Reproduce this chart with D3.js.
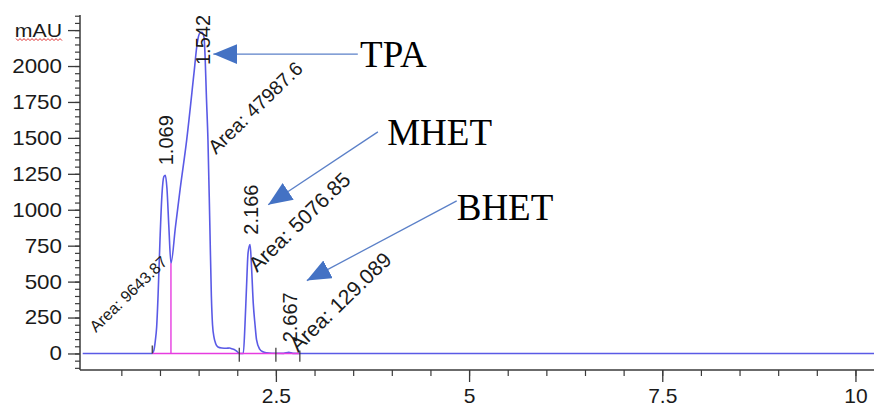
<!DOCTYPE html>
<html>
<head>
<meta charset="utf-8">
<script src="https://cdn.jsdelivr.net/npm/d3@7"></script>
<style>
  body { margin: 0; background: #fff; }
  svg { display: block; }
</style>
</head>
<body>
<div class="chart"></div>
<script>
var svgWidth = 874;
var svgHeight = 406;

// chromatogram trace (min, mAU)
var times  = [0, 0.90, 0.92, 0.94, 0.957, 0.975, 1.0, 1.025, 1.05, 1.069, 1.09, 1.115, 1.142,
              1.20, 1.26, 1.345, 1.44, 1.48, 1.51, 1.542, 1.57, 1.585, 1.60, 1.621, 1.645, 1.665,
              1.68, 1.70, 1.72, 1.75, 1.80, 1.86, 1.90, 1.93, 1.96, 2.00, 2.026, 2.05, 2.078,
              2.10, 2.12, 2.14, 2.166, 2.185, 2.207, 2.23, 2.25, 2.29, 2.33, 2.38, 2.45, 2.60,
              2.667, 2.72, 2.85, 10.24];
var signal = [0, 0, 20, 90, 184, 400, 788, 1100, 1230, 1240, 1150, 880, 628,
              880, 1140, 1483, 1950, 2150, 2225, 2235, 2200, 2050, 1800, 1483, 900, 400,
              200, 110, 70, 45, 38, 36, 38, 33, 28, 12, 0, 0, 0,
              200, 464, 700, 757, 600, 350, 200, 94, 30, 12, 5, 2, 1,
              8, 1, 0, 0];

// peaks
var peakTimes   = [1.069, 1.542, 2.166, 2.667];
var peakHeights = [1240, 2235, 757, 8];
var valleyTime = 1.142;
var valleyValue = 628;

// area annotations, anchored at (time, mAU)
var areaTexts  = ["Area: 9643.87", "Area: 47987.6", "Area: 5076.85", "Area: 129.089"];
var areaTimes  = [0.172, 1.724, 2.255, 2.785];
var areaValues = [143, 1381, 560, 3];
var areaFont   = [16, 19.5, 21, 21];

// integration events
var eventTimes = [0.90, 2.026, 2.50, 2.81];
var eventLow   = [0, -57, -57, -57];
var eventHigh  = [55, 40, 40, 20];
var baselineStart = 0.90;
var baselineEnd = 2.81;

// compound call-outs
var compounds   = ["TPA", "MHET", "BHET"];
var labelTimes  = [3.59, 3.94, 4.84];
var labelValues = [1993, 1451, 931];
var tailTimes   = [3.56, 3.82, 4.84];
var tailValues  = [2083, 1542, 1062];
var tipTimes    = [1.69, 2.40, 2.90];
var tipValues   = [2083, 1035, 507];

// axes
var xMajor = [2.5, 5, 7.5, 10];
var xMinor = d3.range(0.5, 10.25, 0.5);
var yMajor = [0, 250, 500, 750, 1000, 1250, 1500, 1750, 2000, 2250];
var yMinor = d3.range(-100, 2351, 50);

var svg = d3.select(".chart")
    .append("svg")
    .attr("width", svgWidth)
    .attr("height", svgHeight);

var x = d3.scaleLinear().domain([-0.035, 10.24]).range([80, 874]);
var y = d3.scaleLinear().domain([-115, 2355]).range([370, 15]);

var axisColor = "#3a3a3a";

// y axis
svg.append("g")
    .attr("transform", "translate(80,0)")
    .call(d3.axisLeft(y).tickValues(yMinor).tickSize(5).tickFormat(""))
    .call(g => g.select(".domain").remove())
    .selectAll("line").attr("stroke", axisColor).attr("stroke-width", 1.2);

var yAxis = svg.append("g")
    .attr("transform", "translate(80,0)")
    .call(d3.axisLeft(y).tickValues(yMajor).tickSize(12).tickPadding(6)
        .tickFormat(d => d === 2250 ? "mAU" : d));
yAxis.select(".domain").remove();
yAxis.selectAll("line").attr("stroke", axisColor).attr("stroke-width", 1.3);
yAxis.selectAll("text")
    .attr("fill", "#1a1a1a")
    .style("font-family", "'Liberation Sans', Arial, sans-serif")
    .style("font-size", d => d === 2250 ? "19px" : "20px")
    .attr("x", -18 / 1.12)
    .attr("transform", "scale(1.12,1)");

svg.append("line")
    .attr("x1", 80).attr("x2", 80)
    .attr("y1", 15).attr("y2", 370)
    .attr("stroke", axisColor).attr("stroke-width", 1.5);

// red squiggle under mAU
var sq = d3.range(0, 24).map(i => [16 + i * 2, y(2250) + 9 + (i % 2 ? 1.5 : -0.5)]);
svg.append("path")
    .attr("d", d3.line()(sq))
    .attr("fill", "none")
    .attr("stroke", "#e03030")
    .attr("stroke-width", 1);

// x axis
svg.append("g")
    .attr("transform", "translate(0,370)")
    .call(d3.axisBottom(x).tickValues(xMinor).tickSize(6).tickFormat(""))
    .call(g => g.select(".domain").remove())
    .selectAll("line").attr("stroke", axisColor).attr("stroke-width", 1.2);

var xAxis = svg.append("g")
    .attr("transform", "translate(0,370)")
    .call(d3.axisBottom(x).tickValues(xMajor).tickSize(12).tickPadding(6)
        .tickFormat(d => String(d)));
xAxis.select(".domain").remove();
xAxis.selectAll("line").attr("stroke", axisColor).attr("stroke-width", 1.3);
xAxis.selectAll("text")
    .attr("fill", "#1a1a1a")
    .style("font-family", "'Liberation Sans', Arial, sans-serif")
    .style("font-size", "21px");

svg.append("line")
    .attr("x1", 80).attr("x2", 874)
    .attr("y1", 370).attr("y2", 370)
    .attr("stroke", axisColor).attr("stroke-width", 1.5);

// trace
var trace = times.map((t, i) => [t, signal[i]]);
svg.append("path")
    .datum(trace)
    .attr("fill", "none")
    .attr("stroke", "#5a5ae6")
    .attr("stroke-width", 1.6)
    .attr("d", d3.line().x(d => x(d[0])).y(d => y(d[1])).curve(d3.curveMonotoneX));

// integration baseline and drop line
svg.append("line")
    .attr("x1", x(baselineStart)).attr("x2", x(baselineEnd))
    .attr("y1", y(0)).attr("y2", y(0))
    .attr("stroke", "#e63ce0").attr("stroke-width", 1.4);
svg.append("line")
    .attr("x1", x(valleyTime)).attr("x2", x(valleyTime))
    .attr("y1", y(0)).attr("y2", y(valleyValue))
    .attr("stroke", "#e63ce0").attr("stroke-width", 1.4);

svg.selectAll(".event")
    .data(eventTimes)
    .enter()
    .append("line")
    .attr("class", "event")
    .attr("x1", d => x(d)).attr("x2", d => x(d))
    .attr("y1", (d, i) => y(eventLow[i]))
    .attr("y2", (d, i) => y(eventHigh[i]))
    .attr("stroke", "#333").attr("stroke-width", 1.2);

// peak retention time labels
svg.selectAll(".rt")
    .data(peakTimes)
    .enter()
    .append("text")
    .attr("class", "rt")
    .attr("transform", (d, i) =>
        "translate(" + (x(d) + 8) + "," + Math.max(y(peakHeights[i]) - 10, 65) + ") rotate(-90)")
    .style("font-family", "'Liberation Sans', Arial, sans-serif")
    .style("font-size", "20px")
    .attr("fill", "#1a1a1a")
    .text(d => d3.format(".3f")(d));

// area labels
svg.selectAll(".area")
    .data(areaTexts)
    .enter()
    .append("text")
    .attr("class", "area")
    .attr("transform", (d, i) =>
        "translate(" + x(areaTimes[i]) + "," + y(areaValues[i]) + ") rotate(-44)")
    .style("font-family", "'Liberation Sans', Arial, sans-serif")
    .style("font-size", (d, i) => areaFont[i] + "px")
    .attr("fill", "#1a1a1a")
    .text(d => d);

// arrows
svg.append("defs").append("marker")
    .attr("id", "head")
    .attr("viewBox", "0 0 24 20")
    .attr("refX", 24).attr("refY", 10)
    .attr("markerWidth", 24).attr("markerHeight", 20)
    .attr("markerUnits", "userSpaceOnUse")
    .attr("orient", "auto")
    .append("path")
    .attr("d", "M0,0 L24,10 L0,20 Z")
    .attr("fill", "#4472c4");

svg.selectAll(".arrow")
    .data(compounds)
    .enter()
    .append("line")
    .attr("class", "arrow")
    .attr("x1", (d, i) => x(tailTimes[i])).attr("y1", (d, i) => y(tailValues[i]))
    .attr("x2", (d, i) => x(tipTimes[i])).attr("y2", (d, i) => y(tipValues[i]))
    .attr("stroke", "#5b80c8").attr("stroke-width", 1.3)
    .attr("marker-end", "url(#head)");

svg.selectAll(".compound")
    .data(compounds)
    .enter()
    .append("text")
    .attr("class", "compound")
    .attr("x", (d, i) => x(labelTimes[i]))
    .attr("y", (d, i) => y(labelValues[i]))
    .style("font-family", "'Liberation Serif', 'Times New Roman', serif")
    .style("font-size", "37px")
    .attr("fill", "#000")
    .text(d => d);
</script>
</body>
</html>
